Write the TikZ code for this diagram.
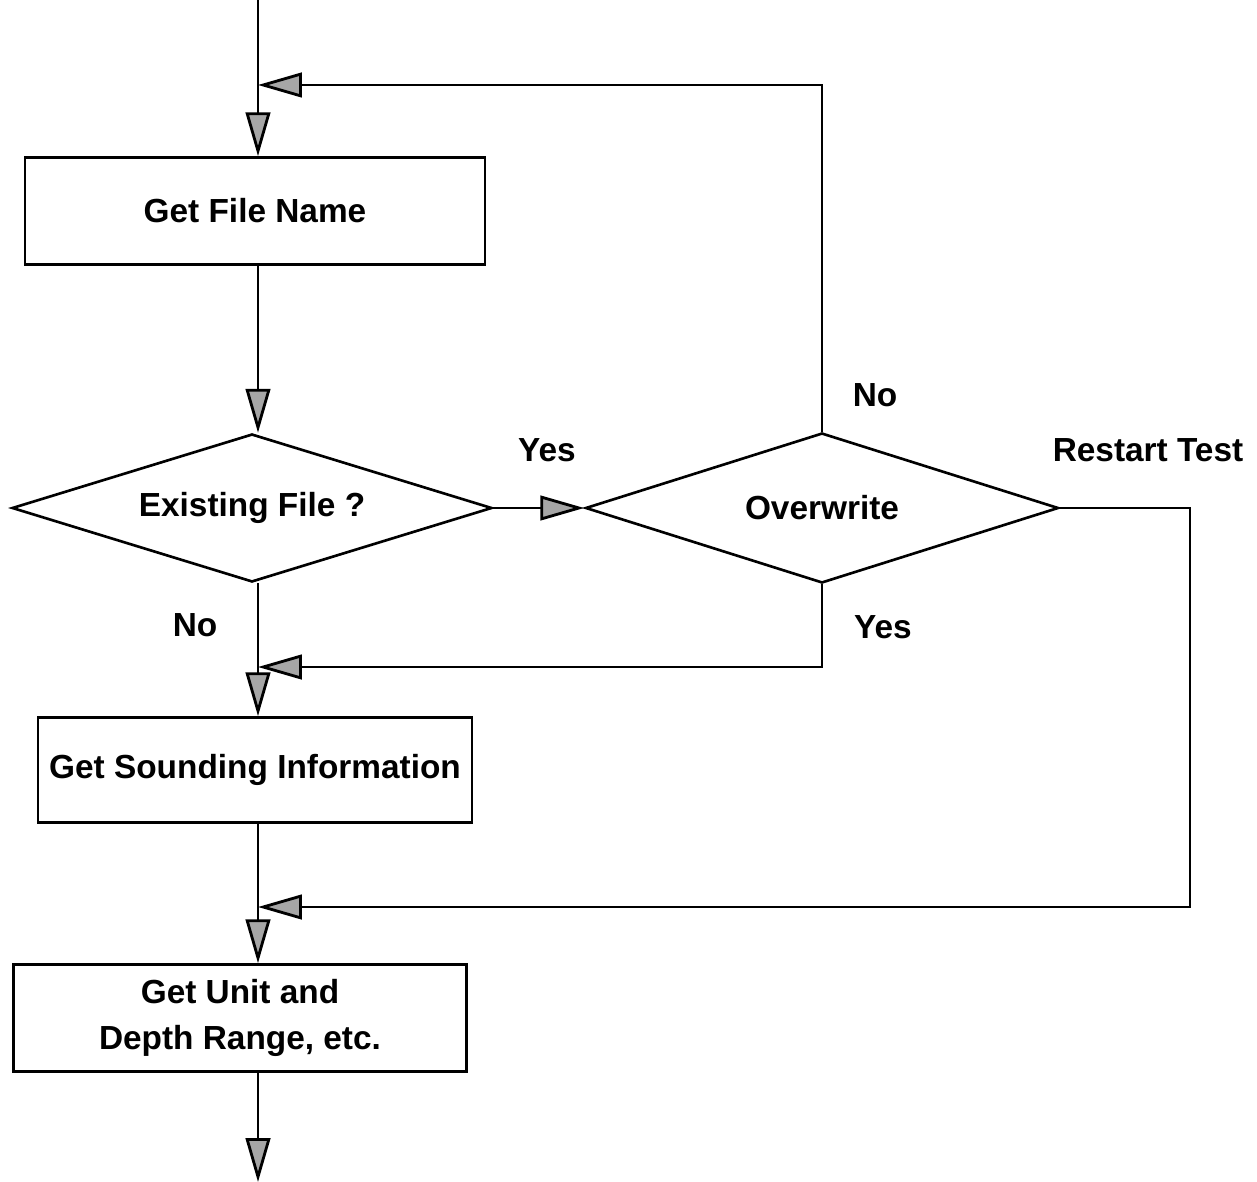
\documentclass[tikz,border=0pt]{standalone}
\usepackage{fontspec}
\setmainfont{Liberation Sans}
\usetikzlibrary{arrows.meta,shapes.geometric,positioning,calc}
\tikzset{
    step-box/.style={
        rectangle,
        draw=black,
        line width=1.5pt,
        align=center,
        font=\fontsize{19}{26}\selectfont\bfseries,
    },
    decision/.style={
        diamond,
        aspect=3.2,
        draw=black,
        line width=1.5pt,
        inner sep=0pt,
        font=\fontsize{19}{23}\selectfont\bfseries,
    },
    flow/.style={
        draw,
        line width=1.6pt,
        -{Triangle[length=25pt,width=14pt,fill=gray!70]},
    },
    branch/.style={
        font=\fontsize{19}{23}\selectfont\bfseries,
    },
}

\begin{document}
\begin{tikzpicture}[x=0.02cm,y=-0.02cm]
    \useasboundingbox (0,0) rectangle (1257,1182);
    \coordinate (start) at (258,0);
    \coordinate (j1) at (258,85);
    \coordinate (j2) at (258,667);
    \coordinate (j3) at (258,907);
    \coordinate (rt) at (1190,907);
    \coordinate (finish) at (258,1182);

    \node [step-box, minimum width=460*0.02cm, minimum height=107*0.02cm] at (255,211) (fname) {Get File Name};
    \node [decision, minimum width=480*0.02cm, minimum height=148*0.02cm] at (252,508) (exist) {Existing File ?};
    \node [decision, minimum width=473*0.02cm, minimum height=150*0.02cm] at (822,508) (over) {Overwrite};
    \node [step-box, minimum width=434*0.02cm, minimum height=105*0.02cm] at (255,770) (sound) {Get Sounding Information};
    \node [step-box, minimum width=453*0.02cm, minimum height=107*0.02cm] at (240,1018) (unit) {Get Unit and\\Depth Range, etc.};

    \node [branch] at (547,450) (yes1) {Yes};
    \node [branch] at (875,395) (no2) {No};
    \node [branch] at (1148,450) (restart) {Restart Test};
    \node [branch] at (883,627) (yes2) {Yes};
    \node [branch] at (195,625) (no1) {No};

    \draw [flow] (start) -- (start |- fname.north);
    \draw [flow] (fname.south -| start) -- (start |- exist.north);
    \draw [flow] (exist.east) -- (over.west);
    \draw [flow] (exist.south -| start) -- (start |- sound.north);
    \draw [flow] (sound.south -| start) -- (start |- unit.north);
    \draw [flow] (unit.south -| start) -- (finish);
    % loops back into the main line
    \draw [flow] (over.north) -- (over.north |- j1) -- (j1);
    \draw [flow] (over.south) -- (over.south |- j2) -- (j2);
    \draw [flow] (over.east) -| (rt) -- (j3);
\end{tikzpicture}
\end{document}
